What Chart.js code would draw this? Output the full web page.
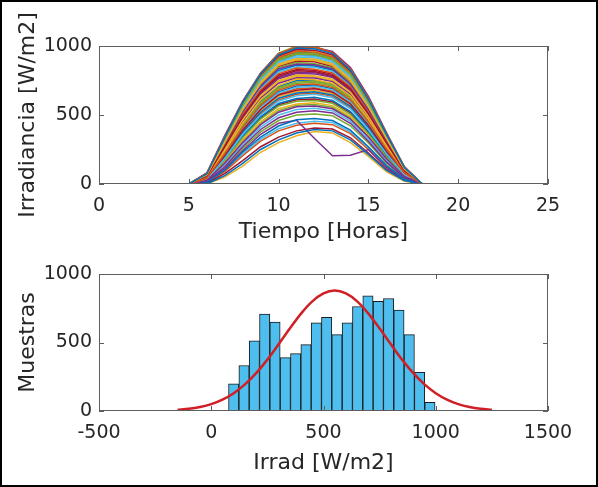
<!DOCTYPE html>
<html>
<head>
<meta charset="utf-8">
<script src="https://cdn.jsdelivr.net/npm/chart.js@4.4.1/dist/chart.umd.min.js"></script>
<style>
    body { margin: 0; background: #fff; }
    #contenedor { position: relative; width: 598px; height: 487px; }
    #contenedor canvas { position: absolute; left: 0; }
    #graficoIrradiancia { top: 0; }
    #graficoHistograma { top: 250px; }
    #marco { position: absolute; left: 0; top: 0; width: 598px; height: 487px; box-sizing: border-box; border: 2px solid #000; pointer-events: none; }
</style>
</head>
<body>
<div id="contenedor">
    <canvas id="graficoIrradiancia" width="598" height="250"></canvas>
    <canvas id="graficoHistograma" width="598" height="237"></canvas>
    <div id="marco"></div>
</div>
<script>
// horas del dia (eje x del grafico superior)
const horas = [0,1,2,3,4,5,6,7,8,9,10,11,12,13,14,15,16,17,18,19,20,21,22,23];

// irradiancia de cada dia [W/m2], una fila por dia
const curvasDia = [
    [0,0,0,0,0,0,72,335,590,795,935,985,980,945,825,615,362,120,0,0,0,0,0,0],
    [0,0,0,0,0,0,40,220,410,570,680,720,725,700,610,450,255,80,0,0,0,0,0,0],
    [0,0,0,0,0,0,65,300,540,730,860,900,895,860,750,560,330,108,0,0,0,0,0,0],
    [0,0,0,0,0,0,25,150,300,430,520,560,565,545,470,340,185,55,0,0,0,0,0,0],
    [0,0,0,0,0,0,70,325,570,770,905,950,945,910,795,590,350,115,0,0,0,0,0,0],
    [0,0,0,0,0,0,30,185,360,500,600,640,650,625,545,395,220,68,0,0,0,0,0,0],
    [0,0,0,0,0,0,55,270,490,665,780,820,815,785,690,510,300,95,0,0,0,0,0,0],
    [0,0,0,0,0,0,10,100,230,340,420,465,475,460,390,270,135,35,0,0,0,0,0,0],
    [0,0,0,0,0,0,74,338,592,798,940,990,992,950,830,620,366,122,0,0,0,0,0,0],
    [0,0,0,0,0,0,48,240,440,610,715,760,755,730,640,470,270,85,0,0,0,0,0,0],
    [0,0,0,0,0,0,60,290,525,710,835,870,865,835,725,540,318,102,0,0,0,0,0,0],
    [0,0,0,0,0,0,28,170,335,470,565,600,605,585,505,365,200,62,0,0,0,0,0,0],
    [0,0,0,0,0,0,68,318,560,755,885,930,925,890,780,580,342,112,0,0,0,0,0,0],
    [0,0,0,0,0,0,36,205,390,540,645,680,690,665,580,425,238,74,0,0,0,0,0,0],
    [0,0,0,0,0,0,0,60,150,250,320,370,395,385,320,215,100,25,0,0,0,0,0,0],
    [0,0,0,0,0,0,71,330,580,780,915,960,955,920,805,600,355,118,0,0,0,0,0,0],
    [0,0,0,0,0,0,52,255,465,640,750,790,785,760,665,490,285,90,0,0,0,0,0,0],
    [0,0,0,0,0,0,18,125,270,395,480,520,530,515,440,310,160,45,0,0,0,0,0,0],
    [0,0,0,0,0,0,62,295,532,718,845,880,872,842,735,548,322,104,0,0,0,0,0,0],
    [0,0,0,0,0,0,38,212,400,555,660,700,708,682,595,438,246,77,0,0,0,0,0,0],
    [0,0,0,0,0,0,73,333,586,790,928,975,970,935,818,610,360,119,0,0,0,0,0,0],
    [0,0,0,0,0,0,29,178,348,486,583,620,628,605,525,380,210,65,0,0,0,0,0,0],
    [0,0,0,0,0,0,57,278,505,683,800,840,832,805,705,522,307,98,0,0,0,0,0,0],
    [0,0,0,0,0,0,66,305,548,740,870,910,905,872,760,566,334,110,0,0,0,0,0,0],
    [0,0,0,0,0,0,12,110,240,360,440,462,330,205,208,250,120,30,0,0,0,0,0,0],
    [0,0,0,0,0,0,45,232,425,590,698,740,745,720,628,460,262,82,0,0,0,0,0,0],
    [0,0,0,0,0,0,58,282,512,692,812,850,845,815,712,528,310,99,0,0,0,0,0,0],
    [0,0,0,0,0,0,5,75,170,270,340,385,405,398,335,225,105,28,0,0,0,0,0,0],
    [0,0,0,0,0,0,33,195,375,520,622,660,668,645,562,410,228,71,0,0,0,0,0,0],
    [0,0,0,0,0,0,75,340,594,800,944,995,993,952,832,622,366,123,0,0,0,0,0,0],
    [0,0,0,0,0,0,26,160,318,450,545,580,588,568,490,352,192,58,0,0,0,0,0,0],
    [0,0,0,0,0,0,53,262,476,650,763,800,798,772,676,498,292,92,0,0,0,0,0,0],
    [0,0,0,0,0,0,69,322,565,762,895,940,935,900,788,585,346,114,0,0,0,0,0,0],
    [0,0,0,0,0,0,22,140,285,412,500,540,548,530,455,325,172,50,0,0,0,0,0,0],
    [0,0,0,0,0,0,63,298,536,724,852,890,885,852,742,553,326,106,0,0,0,0,0,0],
    [0,0,0,0,0,0,39,216,405,562,668,710,716,690,602,444,250,79,0,0,0,0,0,0],
    [0,0,0,0,0,0,8,90,205,310,385,425,440,430,365,250,120,32,0,0,0,0,0,0],
    [0,0,0,0,0,0,72,332,582,784,920,965,960,925,810,604,357,118,0,0,0,0,0,0],
    [0,0,0,0,0,0,50,248,452,622,730,770,768,742,650,478,278,88,0,0,0,0,0,0],
    [0,0,0,0,0,0,15,118,255,378,460,500,508,494,422,298,152,42,0,0,0,0,0,0],
    [0,0,0,0,0,0,67,312,555,748,878,920,915,880,770,572,338,111,0,0,0,0,0,0],
    [0,0,0,0,0,0,28,174,342,478,574,610,616,595,515,372,205,63,0,0,0,0,0,0],
    [0,0,0,0,0,0,59,286,518,700,822,860,855,825,718,534,314,100,0,0,0,0,0,0],
    [0,0,0,0,0,0,37,208,395,548,652,690,698,673,588,432,242,75,0,0,0,0,0,0],
    [0,0,0,0,0,0,0,50,130,230,300,350,380,370,300,200,90,20,0,0,0,0,0,0],
    [0,0,0,0,0,0,80,350,600,805,945,978,960,915,790,585,340,110,0,0,0,0,0,0],
    [0,0,0,0,0,0,42,225,418,580,690,730,735,710,620,455,258,81,0,0,0,0,0,0],
    [0,0,0,0,0,0,64,302,545,735,865,905,900,868,755,562,332,109,0,0,0,0,0,0],
    [0,0,0,0,0,0,56,274,498,674,790,830,825,795,698,516,303,96,0,0,0,0,0,0],
    [0,0,0,0,0,0,70,328,575,775,910,955,950,915,800,595,352,116,0,0,0,0,0,0],
    [0,0,0,0,0,0,32,190,368,510,610,650,660,635,552,402,224,70,0,0,0,0,0,0],
    [0,0,0,0,0,0,51,252,458,630,740,780,776,750,658,484,282,89,0,0,0,0,0,0],
    [0,0,0,0,0,0,65,320,580,790,940,985,990,960,845,635,375,125,0,0,0,0,0,0],
    [0,0,0,0,0,0,24,155,308,440,532,570,576,556,480,346,188,56,0,0,0,0,0,0],
    [0,0,0,0,0,0,60,288,520,702,825,862,858,828,722,536,315,101,0,0,0,0,0,0],
    [0,0,0,0,0,0,68,320,562,758,890,935,930,895,784,582,344,113,0,0,0,0,0,0],
    [0,0,0,0,0,0,46,236,432,600,706,750,750,725,634,465,266,84,0,0,0,0,0,0],
    [0,0,0,0,0,0,64,300,538,726,855,895,890,856,746,556,328,107,0,0,0,0,0,0],
    [0,0,0,0,0,0,34,200,382,530,634,670,678,655,570,418,232,72,0,0,0,0,0,0],
    [0,0,0,0,0,0,54,266,483,658,772,810,806,778,683,504,296,93,0,0,0,0,0,0],
    [0,0,0,0,0,0,76,342,596,802,948,1000,996,955,835,624,368,124,0,0,0,0,0,0],
    [0,0,0,0,0,0,10,95,215,325,400,440,455,445,378,260,128,34,0,0,0,0,0,0],
    [0,0,0,0,0,0,69,324,567,766,900,945,940,905,792,588,348,115,0,0,0,0,0,0]
];

// histograma: centro de cada clase [W/m2] y numero de muestras
const centrosClase = [100,146,192,238,284,330,376,422,468,514,560,606,652,698,744,790,836,882,928,974];
const muestras = [199,332,513,707,649,390,419,484,644,683,557,644,763,840,801,821,736,557,283,63];

// curva normal ajustada
const ajusteX = [-150,-100,-50,0,50,100,150,200,250,300,350,400,450,500,550,600,650,700,750,800,850,900,950,1000,1050,1100,1150,1200,1250];
const ajusteY = [9,16,29,50,83,130,194,276,375,487,602,711,800,858,879,858,800,711,602,487,375,276,194,130,83,50,29,16,9];

// ticks de los ejes
const ticksHoras = [0,5,10,15,20,25];
const ticksIrrad = [-500,0,500,1000,1500];
const ticksY = [0,500,1000];

const coloresMatlab = ['#0072BD','#D95319','#EDB120','#7E2F8E','#77AC30','#4DBEEE','#A2142F'];

const fuenteTicks = { family: 'DejaVu Sans', size: 19 };
const fuenteTitulo = { family: 'DejaVu Sans', size: 22 };
const colorTexto = '#262626';

// caja tipo matlab con ticks hacia adentro
const cajaMatlab = {
    id: 'cajaMatlab',
    afterDatasetsDraw(chart) {
        const { ctx, chartArea: a, scales } = chart;
        const x = scales.x, y = scales.y;
        const largo = 5;
        ctx.save();
        ctx.strokeStyle = '#5e5e5e';
        ctx.lineWidth = 1;
        ctx.strokeRect(a.left + 0.5, a.top + 0.5, a.width - 1, a.height - 1);
        ctx.beginPath();
        x.ticks.forEach(function (t, i) {
            const px = Math.round(x.getPixelForTick(i)) + 0.5;
            ctx.moveTo(px, a.bottom); ctx.lineTo(px, a.bottom - largo);
            ctx.moveTo(px, a.top); ctx.lineTo(px, a.top + largo);
        });
        y.ticks.forEach(function (t, i) {
            const py = Math.round(y.getPixelForTick(i)) + 0.5;
            ctx.moveTo(a.left, py); ctx.lineTo(a.left + largo, py);
            ctx.moveTo(a.right, py); ctx.lineTo(a.right - largo, py);
        });
        ctx.stroke();
        ctx.restore();
    }
};

function textoTick(valor) {
    return String(valor);
}

function ejeX(min, max, lista, titulo, altura, padTitulo) {
    return {
        type: 'linear',
        min: min,
        max: max,
        offset: false,
        afterBuildTicks: function (s) { s.ticks = lista.map(v => ({ value: v })); },
        afterFit: function (s) { s.height = altura; },
        ticks: { font: fuenteTicks, color: colorTexto, padding: 11, maxRotation: 0, callback: textoTick },
        grid: { display: false, drawTicks: false },
        border: { display: false },
        title: { display: true, text: titulo, font: fuenteTitulo, color: colorTexto, padding: { top: 0, bottom: padTitulo } }
    };
}

function ejeY(titulo) {
    return {
        type: 'linear',
        min: 0,
        max: 1000,
        afterBuildTicks: function (s) { s.ticks = ticksY.map(v => ({ value: v })); },
        afterFit: function (s) { s.width = 99; },
        ticks: { font: fuenteTicks, color: colorTexto, padding: 7, callback: textoTick },
        grid: { display: false, drawTicks: false },
        border: { display: false },
        title: { display: true, text: titulo, font: fuenteTitulo, color: colorTexto, padding: { top: 15, bottom: 0 } }
    };
}

function graficoIrradiancia() {
    const datasets = [];
    curvasDia.forEach(function (fila, i) {
        datasets.push({
            data: fila,
            borderColor: coloresMatlab[i % coloresMatlab.length],
            borderWidth: 1.5,
            pointRadius: 0,
            tension: 0,
            fill: false
        });
    });

    new Chart(document.getElementById('graficoIrradiancia'), {
        type: 'line',
        plugins: [cajaMatlab],
        data: { labels: horas, datasets: datasets },
        options: {
            responsive: false,
            animation: false,
            devicePixelRatio: 1,
            layout: { padding: { left: 0, right: 50, top: 46, bottom: 0 } },
            plugins: { legend: { display: false }, tooltip: { enabled: false } },
            scales: {
                x: ejeX(0, 25, ticksHoras, 'Tiempo [Horas]', 66, 5),
                y: ejeY('Irradiancia [W/m2]')
            }
        }
    });
}

function graficoHistograma() {
    const barras = centrosClase.map((c, i) => ({ x: c, y: muestras[i] }));
    const curva = ajusteX.map((v, i) => ({ x: v, y: ajusteY[i] }));

    new Chart(document.getElementById('graficoHistograma'), {
        type: 'bar',
        plugins: [cajaMatlab],
        data: {
            datasets: [
                {
                    type: 'line',
                    data: curva,
                    borderColor: '#D01F26',
                    borderWidth: 2.5,
                    pointRadius: 0,
                    tension: 0.4,
                    cubicInterpolationMode: 'monotone',
                    order: 1
                },
                {
                    type: 'bar',
                    data: barras,
                    backgroundColor: '#4DBEEE',
                    borderColor: '#1a1a1a',
                    borderWidth: 1,
                    barPercentage: 1,
                    categoryPercentage: 1,
                    order: 2
                }
            ]
        },
        options: {
            responsive: false,
            animation: false,
            devicePixelRatio: 1,
            layout: { padding: { left: 0, right: 50, top: 24, bottom: 0 } },
            plugins: { legend: { display: false }, tooltip: { enabled: false } },
            scales: {
                x: ejeX(-500, 1500, ticksIrrad, 'Irrad [W/m2]', 76, 11),
                y: ejeY('Muestras')
            }
        }
    });
}

graficoIrradiancia();
graficoHistograma();
</script>
</body>
</html>
